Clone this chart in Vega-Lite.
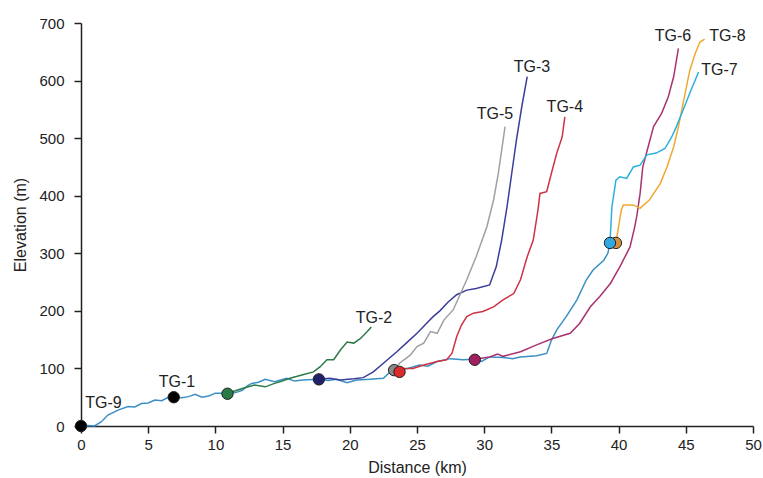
{
  "$schema": "https://vega.github.io/schema/vega-lite/v6.json",
  "width": 672,
  "height": 403,
  "autosize": {"type": "none"},
  "padding": {"left": 81, "top": 23, "right": 10, "bottom": 52},
  "background": "white",
  "config": {
    "view": {"stroke": null},
    "font": "Liberation Sans",
    "axis": {
      "grid": false,
      "domainColor": "#222",
      "domainWidth": 1.5,
      "tickColor": "#222",
      "tickWidth": 1.5,
      "tickSize": 7,
      "labelFlush": false,
      "labelFontSize": 15,
      "labelColor": "#222",
      "titleFontSize": 16,
      "titleFontWeight": "normal",
      "titleColor": "#222",
      "labelFont": "Liberation Sans",
      "titleFont": "Liberation Sans"
    }
  },
  "datasets": {
    "lines": [
      {"s": "TG-9", "d": 0, "e": 0}, {"s": "TG-9", "d": 0.5, "e": 1}, {"s": "TG-9", "d": 1.0, "e": 0}, {"s": "TG-9", "d": 1.5, "e": 7},
      {"s": "TG-9", "d": 2.0, "e": 19}, {"s": "TG-9", "d": 2.8, "e": 28}, {"s": "TG-9", "d": 3.5, "e": 34}, {"s": "TG-9", "d": 4.0, "e": 33},
      {"s": "TG-9", "d": 4.5, "e": 39}, {"s": "TG-9", "d": 5.0, "e": 40}, {"s": "TG-9", "d": 5.5, "e": 45}, {"s": "TG-9", "d": 6.0, "e": 44},
      {"s": "TG-9", "d": 6.5, "e": 50}, {"s": "TG-9", "d": 6.9, "e": 50}, {"s": "TG-9", "d": 7.5, "e": 49}, {"s": "TG-9", "d": 8.0, "e": 51},
      {"s": "TG-9", "d": 8.5, "e": 55}, {"s": "TG-9", "d": 9.0, "e": 50}, {"s": "TG-9", "d": 9.5, "e": 52}, {"s": "TG-9", "d": 10.0, "e": 57},
      {"s": "TG-9", "d": 10.9, "e": 57}, {"s": "TG-9", "d": 11.5, "e": 58}, {"s": "TG-9", "d": 12.0, "e": 62}, {"s": "TG-9", "d": 12.4, "e": 70},
      {"s": "TG-9", "d": 12.7, "e": 74}, {"s": "TG-9", "d": 13.2, "e": 76}, {"s": "TG-9", "d": 13.7, "e": 81}, {"s": "TG-9", "d": 14.4, "e": 77},
      {"s": "TG-9", "d": 15.3, "e": 83}, {"s": "TG-9", "d": 15.9, "e": 78}, {"s": "TG-9", "d": 16.5, "e": 80}, {"s": "TG-9", "d": 17.7, "e": 81},
      {"s": "TG-9", "d": 18.4, "e": 79}, {"s": "TG-9", "d": 19.0, "e": 81}, {"s": "TG-9", "d": 19.8, "e": 75}, {"s": "TG-9", "d": 20.5, "e": 80},
      {"s": "TG-9", "d": 21.5, "e": 81}, {"s": "TG-9", "d": 22.5, "e": 83}, {"s": "TG-9", "d": 23.0, "e": 94}, {"s": "TG-9", "d": 23.5, "e": 97},
      {"s": "TG-9", "d": 24.3, "e": 100}, {"s": "TG-9", "d": 25.2, "e": 106}, {"s": "TG-9", "d": 25.8, "e": 104}, {"s": "TG-9", "d": 26.5, "e": 112},
      {"s": "TG-9", "d": 27.5, "e": 117}, {"s": "TG-9", "d": 28.4, "e": 115}, {"s": "TG-9", "d": 29.3, "e": 116}, {"s": "TG-9", "d": 29.8, "e": 112},
      {"s": "TG-9", "d": 30.4, "e": 120}, {"s": "TG-9", "d": 31.4, "e": 119}, {"s": "TG-9", "d": 32.1, "e": 117}, {"s": "TG-9", "d": 32.7, "e": 120},
      {"s": "TG-9", "d": 33.9, "e": 122}, {"s": "TG-9", "d": 34.65, "e": 126}, {"s": "TG-9", "d": 35.0, "e": 149}, {"s": "TG-9", "d": 35.4, "e": 167},
      {"s": "TG-9", "d": 36.1, "e": 190}, {"s": "TG-9", "d": 36.9, "e": 219}, {"s": "TG-9", "d": 37.6, "e": 254}, {"s": "TG-9", "d": 38.1, "e": 271},
      {"s": "TG-9", "d": 38.9, "e": 288}, {"s": "TG-9", "d": 39.2, "e": 300}, {"s": "TG-9", "d": 39.36, "e": 318},

      {"s": "TG-2", "d": 10.9, "e": 57}, {"s": "TG-2", "d": 12.0, "e": 65}, {"s": "TG-2", "d": 12.9, "e": 71}, {"s": "TG-2", "d": 13.7, "e": 68},
      {"s": "TG-2", "d": 14.4, "e": 74}, {"s": "TG-2", "d": 14.8, "e": 77}, {"s": "TG-2", "d": 15.55, "e": 83}, {"s": "TG-2", "d": 16.5, "e": 89},
      {"s": "TG-2", "d": 17.3, "e": 94}, {"s": "TG-2", "d": 17.8, "e": 103}, {"s": "TG-2", "d": 18.3, "e": 115}, {"s": "TG-2", "d": 18.8, "e": 115},
      {"s": "TG-2", "d": 19.3, "e": 132}, {"s": "TG-2", "d": 19.8, "e": 146}, {"s": "TG-2", "d": 20.3, "e": 144}, {"s": "TG-2", "d": 20.8, "e": 152},
      {"s": "TG-2", "d": 21.3, "e": 164}, {"s": "TG-2", "d": 21.6, "e": 172},

      {"s": "TG-3", "d": 17.7, "e": 81}, {"s": "TG-3", "d": 18.5, "e": 83}, {"s": "TG-3", "d": 19.3, "e": 80}, {"s": "TG-3", "d": 20.3, "e": 82},
      {"s": "TG-3", "d": 21.0, "e": 84}, {"s": "TG-3", "d": 21.75, "e": 94}, {"s": "TG-3", "d": 22.5, "e": 109}, {"s": "TG-3", "d": 23.5, "e": 129},
      {"s": "TG-3", "d": 24.2, "e": 144}, {"s": "TG-3", "d": 25.0, "e": 161}, {"s": "TG-3", "d": 25.7, "e": 178}, {"s": "TG-3", "d": 26.2, "e": 190},
      {"s": "TG-3", "d": 26.7, "e": 200}, {"s": "TG-3", "d": 27.3, "e": 215}, {"s": "TG-3", "d": 27.95, "e": 228}, {"s": "TG-3", "d": 28.7, "e": 236},
      {"s": "TG-3", "d": 29.4, "e": 239}, {"s": "TG-3", "d": 30.4, "e": 245}, {"s": "TG-3", "d": 30.9, "e": 277}, {"s": "TG-3", "d": 31.3, "e": 323},
      {"s": "TG-3", "d": 31.7, "e": 381}, {"s": "TG-3", "d": 32.05, "e": 439}, {"s": "TG-3", "d": 32.4, "e": 497}, {"s": "TG-3", "d": 32.8, "e": 555},
      {"s": "TG-3", "d": 33.2, "e": 607},

      {"s": "TG-5", "d": 23.3, "e": 97}, {"s": "TG-5", "d": 23.7, "e": 109}, {"s": "TG-5", "d": 24.5, "e": 123}, {"s": "TG-5", "d": 25.0, "e": 138},
      {"s": "TG-5", "d": 25.5, "e": 144}, {"s": "TG-5", "d": 26.0, "e": 164}, {"s": "TG-5", "d": 26.5, "e": 161}, {"s": "TG-5", "d": 27.0, "e": 184},
      {"s": "TG-5", "d": 27.7, "e": 202}, {"s": "TG-5", "d": 28.7, "e": 254}, {"s": "TG-5", "d": 29.4, "e": 294}, {"s": "TG-5", "d": 30.2, "e": 346},
      {"s": "TG-5", "d": 30.7, "e": 393}, {"s": "TG-5", "d": 31.05, "e": 439}, {"s": "TG-5", "d": 31.3, "e": 479}, {"s": "TG-5", "d": 31.55, "e": 520},

      {"s": "TG-4", "d": 23.7, "e": 94}, {"s": "TG-4", "d": 24.0, "e": 100}, {"s": "TG-4", "d": 24.7, "e": 100}, {"s": "TG-4", "d": 25.5, "e": 106},
      {"s": "TG-4", "d": 26.5, "e": 112}, {"s": "TG-4", "d": 27.2, "e": 115}, {"s": "TG-4", "d": 27.6, "e": 126}, {"s": "TG-4", "d": 27.95, "e": 155},
      {"s": "TG-4", "d": 28.3, "e": 175}, {"s": "TG-4", "d": 28.7, "e": 190}, {"s": "TG-4", "d": 29.2, "e": 196}, {"s": "TG-4", "d": 29.9, "e": 199},
      {"s": "TG-4", "d": 30.7, "e": 207}, {"s": "TG-4", "d": 31.4, "e": 219}, {"s": "TG-4", "d": 32.2, "e": 230}, {"s": "TG-4", "d": 32.7, "e": 254},
      {"s": "TG-4", "d": 33.2, "e": 294}, {"s": "TG-4", "d": 33.65, "e": 323}, {"s": "TG-4", "d": 34.0, "e": 375}, {"s": "TG-4", "d": 34.15, "e": 404},
      {"s": "TG-4", "d": 34.65, "e": 407}, {"s": "TG-4", "d": 35.0, "e": 439}, {"s": "TG-4", "d": 35.4, "e": 474}, {"s": "TG-4", "d": 35.8, "e": 502},
      {"s": "TG-4", "d": 36.0, "e": 537},

      {"s": "TG-6", "d": 29.3, "e": 116}, {"s": "TG-6", "d": 30.4, "e": 120}, {"s": "TG-6", "d": 31.0, "e": 125}, {"s": "TG-6", "d": 31.4, "e": 121},
      {"s": "TG-6", "d": 32.7, "e": 129}, {"s": "TG-6", "d": 33.9, "e": 141}, {"s": "TG-6", "d": 35.1, "e": 152}, {"s": "TG-6", "d": 36.4, "e": 161},
      {"s": "TG-6", "d": 37.1, "e": 178}, {"s": "TG-6", "d": 37.9, "e": 207}, {"s": "TG-6", "d": 38.6, "e": 225}, {"s": "TG-6", "d": 39.4, "e": 248},
      {"s": "TG-6", "d": 40.1, "e": 277}, {"s": "TG-6", "d": 40.85, "e": 311}, {"s": "TG-6", "d": 41.2, "e": 346}, {"s": "TG-6", "d": 41.35, "e": 364},
      {"s": "TG-6", "d": 41.6, "e": 404}, {"s": "TG-6", "d": 41.8, "e": 450}, {"s": "TG-6", "d": 42.2, "e": 485}, {"s": "TG-6", "d": 42.6, "e": 520},
      {"s": "TG-6", "d": 43.2, "e": 543}, {"s": "TG-6", "d": 43.7, "e": 572}, {"s": "TG-6", "d": 44.1, "e": 607}, {"s": "TG-6", "d": 44.45, "e": 656},

      {"s": "TG-8", "d": 39.8, "e": 318}, {"s": "TG-8", "d": 40.2, "e": 375}, {"s": "TG-8", "d": 40.35, "e": 384}, {"s": "TG-8", "d": 41.1, "e": 384},
      {"s": "TG-8", "d": 41.6, "e": 378}, {"s": "TG-8", "d": 42.3, "e": 393}, {"s": "TG-8", "d": 43.1, "e": 421}, {"s": "TG-8", "d": 43.6, "e": 450},
      {"s": "TG-8", "d": 44.1, "e": 485}, {"s": "TG-8", "d": 44.45, "e": 520}, {"s": "TG-8", "d": 44.9, "e": 572}, {"s": "TG-8", "d": 45.3, "e": 618},
      {"s": "TG-8", "d": 45.7, "e": 647}, {"s": "TG-8", "d": 46.05, "e": 667}, {"s": "TG-8", "d": 46.4, "e": 672},

      {"s": "TG-7", "d": 39.36, "e": 318}, {"s": "TG-7", "d": 39.5, "e": 380}, {"s": "TG-7", "d": 39.8, "e": 427}, {"s": "TG-7", "d": 40.1, "e": 433},
      {"s": "TG-7", "d": 40.6, "e": 430}, {"s": "TG-7", "d": 41.1, "e": 450}, {"s": "TG-7", "d": 41.6, "e": 453}, {"s": "TG-7", "d": 42.1, "e": 471},
      {"s": "TG-7", "d": 42.8, "e": 474}, {"s": "TG-7", "d": 43.45, "e": 482}, {"s": "TG-7", "d": 43.95, "e": 502}, {"s": "TG-7", "d": 44.3, "e": 520},
      {"s": "TG-7", "d": 44.8, "e": 549}, {"s": "TG-7", "d": 45.4, "e": 584}, {"s": "TG-7", "d": 45.95, "e": 615}
    ],
    "pts": [
      {"s": "TG-9", "d": 0, "e": 0},
      {"s": "TG-1", "d": 6.9, "e": 50},
      {"s": "TG-2", "d": 10.9, "e": 56},
      {"s": "TG-3", "d": 17.7, "e": 81},
      {"s": "TG-5", "d": 23.3, "e": 97},
      {"s": "TG-4", "d": 23.7, "e": 94},
      {"s": "TG-6", "d": 29.3, "e": 115},
      {"s": "TG-8", "d": 39.8, "e": 318},
      {"s": "TG-7", "d": 39.36, "e": 318}
    ],
    "labels": [
      {"s": "TG-9", "d": 1.67, "e": 40},
      {"s": "TG-1", "d": 7.14, "e": 76},
      {"s": "TG-2", "d": 21.8, "e": 188},
      {"s": "TG-3", "d": 33.56, "e": 624},
      {"s": "TG-5", "d": 30.8, "e": 542},
      {"s": "TG-4", "d": 36.0, "e": 554},
      {"s": "TG-6", "d": 44.05, "e": 678},
      {"s": "TG-8", "d": 48.1, "e": 678},
      {"s": "TG-7", "d": 47.5, "e": 618}
    ]
  },
  "layer": [
    {
      "data": {"name": "lines"},
      "mark": {"type": "line", "strokeWidth": 1.5},
      "encoding": {
        "x": {"field": "d", "type": "quantitative", "scale": {"domain": [0, 50], "nice": false}, "axis": {"title": "Distance (km)", "values": [0,5,10,15,20,25,30,35,40,45,50], "labelPadding": 4, "titlePadding": 7}},
        "y": {"field": "e", "type": "quantitative", "scale": {"domain": [0, 700], "nice": false}, "axis": {"title": "Elevation (m)", "values": [0,100,200,300,400,500,600,700], "labelPadding": 10, "titlePadding": 10}},
        "color": {"field": "s", "type": "nominal", "legend": null,
          "scale": {"domain": ["TG-9","TG-2","TG-3","TG-5","TG-4","TG-6","TG-8","TG-7"],
                    "range": ["#3a8fc4","#2e7a4a","#3a3d9a","#a0a0a0","#cc3344","#a8336f","#f0a830","#2bb0de"]}}
      }
    },
    {
      "data": {"name": "pts"},
      "mark": {"type": "point", "filled": true, "size": 130, "stroke": "#222", "strokeWidth": 1, "opacity": 1},
      "encoding": {
        "x": {"field": "d", "type": "quantitative"},
        "y": {"field": "e", "type": "quantitative"},
        "fill": {"field": "s", "type": "nominal", "legend": null,
          "scale": {"domain": ["TG-9","TG-1","TG-2","TG-3","TG-5","TG-4","TG-6","TG-8","TG-7"],
                    "range": ["#000000","#000000","#2a7a45","#22226a","#8a8a8a","#dd2a2a","#a02060","#d89040","#30a8e0"]}}
      }
    },
    {
      "data": {"name": "labels"},
      "mark": {"type": "text", "fontSize": 16, "color": "#222", "align": "center", "baseline": "middle", "font": "Liberation Sans"},
      "encoding": {
        "x": {"field": "d", "type": "quantitative"},
        "y": {"field": "e", "type": "quantitative"},
        "text": {"field": "s", "type": "nominal"}
      }
    }
  ],
  "resolve": {"scale": {"color": "independent"}}
}
